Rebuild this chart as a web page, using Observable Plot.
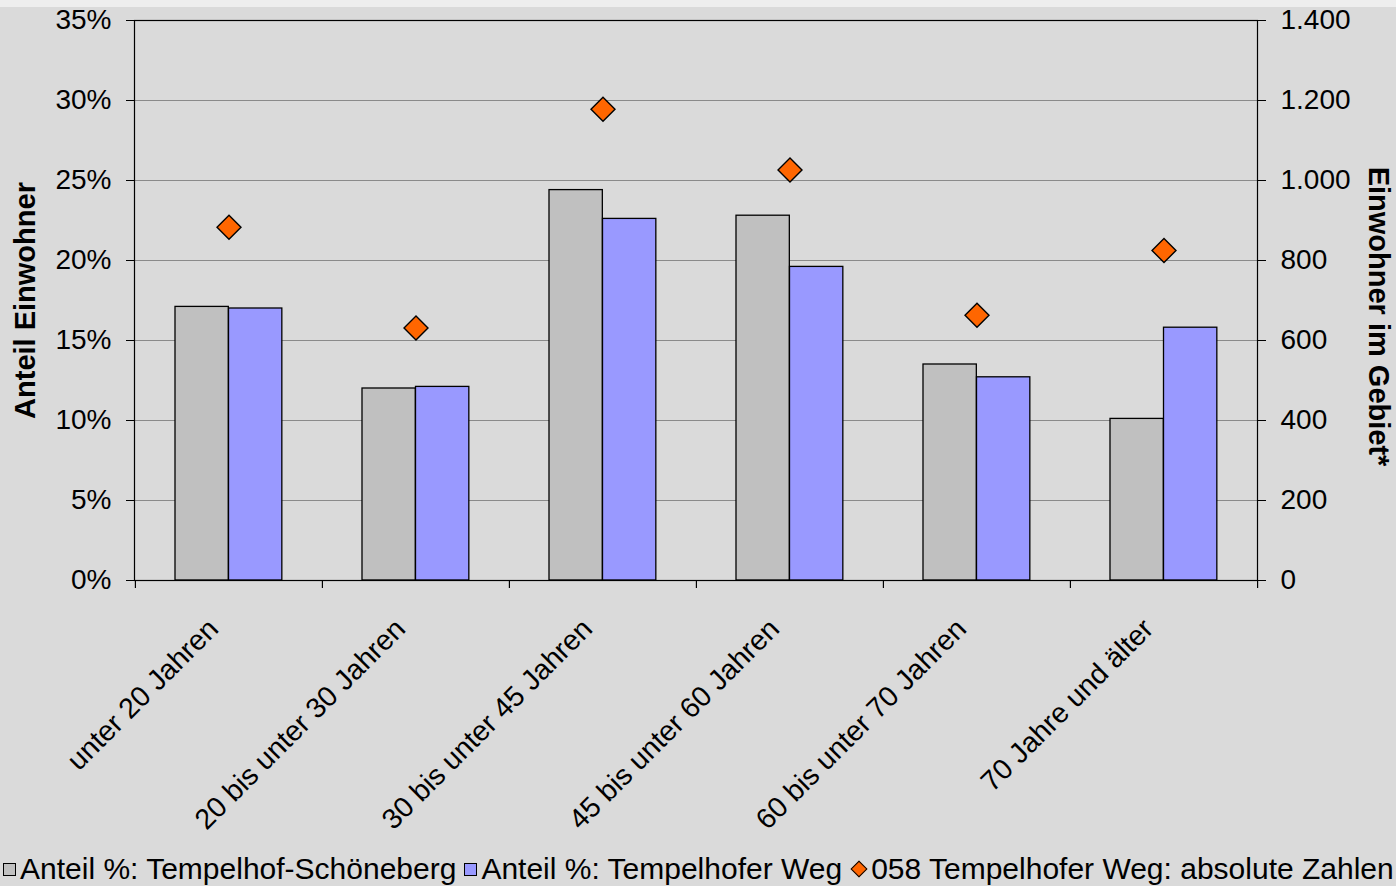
<!DOCTYPE html>
<html>
<head>
<meta charset="utf-8">
<script src="https://cdn.jsdelivr.net/npm/d3@7"></script>
<script src="https://cdn.jsdelivr.net/npm/@observablehq/plot@0.6"></script>
<style>
  html, body { margin: 0; padding: 0; background: #dadada; width: 1396px; height: 886px; overflow: hidden; font-family: Arial, "Liberation Sans", sans-serif; }
  #strip { position: absolute; left: 0; top: 0; width: 1396px; height: 7px; background: #eeeeee; }
  #chart svg { display: block; }
  #legend { position: absolute; left: 0; top: 852px; width: 1396px; height: 34px; white-space: nowrap; overflow: hidden; font-size: 30px; line-height: 34px; color: #000; display: flex; align-items: center; }
  .sw { display: inline-block; flex: none; width: 11px; height: 11px; border: 1px solid #000; margin: 0 4px 0 3px; }
  .dia { display: inline-block; flex: none; width: 10px; height: 10px; border: 1.5px solid #000; background: #ff6600; transform: rotate(45deg); margin: 0 6px 0 6px; }
  .lt { margin-right: 5px; flex: none; }
</style>
</head>
<body>
<div id="strip"></div>
<div id="chart"></div>
<div id="legend"></div>
<script>
const categories = ["unter 20 Jahren", "20 bis unter 30 Jahren", "30 bis unter 45 Jahren", "45 bis unter 60 Jahren", "60 bis unter 70 Jahren", "70 Jahre und älter"];
const anteilTempelhofSchoeneberg = [17.1, 12.0, 24.4, 22.8, 13.5, 10.1];
const anteilTempelhoferWeg = [17.0, 12.1, 22.6, 19.6, 12.7, 15.8];
const absoluteZahlen = [883, 631, 1178, 1026, 663, 825];
const leftTicks = [0, 5, 10, 15, 20, 25, 30, 35];
const rightTicks = [0, 200, 400, 600, 800, 1000, 1200, 1400];
const seriesNames = ["Anteil %: Tempelhof-Schöneberg", "Anteil %: Tempelhofer Weg", "058 Tempelhofer Weg: absolute Zahlen"];
const colors = ["#c0c0c0", "#9999ff", "#ff6600"];

const W = 1396, ML = 134, MR = 139, MT = 20, H = 845, MB = H - 580;
const bw = (W - ML - MR) / categories.length;
const barW = 53.5, padOuter = 40;
const ratio = rightTicks[rightTicks.length - 1] / leftTicks[leftTicks.length - 1];
const de = d3.formatLocale({decimal: ",", thousands: ".", grouping: [3], currency: ["", " €"]});
const fmt = de.format(",");

const rows = categories.map((c, i) => ({cat: c, ts: anteilTempelhofSchoeneberg[i], tw: anteilTempelhoferWeg[i], abs: absoluteZahlen[i]}));
const fs = 28;

const plot = Plot.plot({
  width: W, height: H,
  marginLeft: ML, marginRight: MR, marginTop: MT, marginBottom: MB,
  style: {background: "transparent", fontFamily: "Arial, 'Liberation Sans', sans-serif", color: "#000"},
  x: {type: "band", domain: categories, padding: 0, axis: null},
  y: {domain: [0, 35], axis: null},
  marks: [
    Plot.gridY(leftTicks.slice(1, -1), {stroke: "#8a8a8a", strokeOpacity: 1, strokeWidth: 1}),
    Plot.barY(rows, {x: "cat", y: "ts", fill: colors[0], stroke: "#000", strokeWidth: 1.3, insetLeft: padOuter, insetRight: bw - padOuter - barW}),
    Plot.barY(rows, {x: "cat", y: "tw", fill: colors[1], stroke: "#000", strokeWidth: 1.3, insetLeft: padOuter + barW, insetRight: bw - padOuter - 2 * barW}),
    Plot.frame({stroke: "#000", strokeWidth: 1.2}),
    Plot.ruleX(categories, {x: d => d, y1: 0, y2: 0, dx: -bw / 2, insetBottom: -8, stroke: "#000", strokeWidth: 1.2}),
    Plot.ruleX(categories.slice(-1), {x: d => d, y1: 0, y2: 0, dx: bw / 2, insetBottom: -8, stroke: "#000", strokeWidth: 1.2}),
    Plot.dot(rows, {x: "cat", y: d => d.abs / ratio, symbol: "diamond2", r: 10.8, fill: colors[2], stroke: "#000", strokeWidth: 1.4}),
    Plot.axisY(leftTicks, {anchor: "left", tickSize: 8, tickPadding: 15, tickFormat: d => d + "%", fontSize: fs, label: null, stroke: "#000"}),
    Plot.axisY(leftTicks, {anchor: "right", tickSize: 8, tickPadding: 15, tickFormat: d => fmt(d * ratio), fontSize: fs, label: null, stroke: "#000"}),
    Plot.text(categories, {x: d => d, y: 0, dx: -9, dy: 50, rotate: -45, textAnchor: "end", lineAnchor: "bottom", fontSize: 28.5, fill: "#000"}),
    Plot.text(["Anteil Einwohner"], {frameAnchor: "left", dx: -109, rotate: -90, textAnchor: "middle", lineAnchor: "middle", fontSize: 29, fontWeight: "bold", fill: "#000"}),
    Plot.text(["Einwohner im Gebiet*"], {frameAnchor: "right", dx: 121, dy: 16, rotate: 90, textAnchor: "middle", lineAnchor: "middle", fontSize: 29, fontWeight: "bold", fill: "#000"})
  ]
});
document.getElementById("chart").appendChild(plot);

const legend = document.getElementById("legend");
seriesNames.forEach((name, i) => {
  const sw = document.createElement("span");
  if (i < 2) { sw.className = "sw"; sw.style.background = colors[i]; }
  else { sw.className = "dia"; }
  legend.appendChild(sw);
  const t = document.createElement("span");
  t.className = "lt";
  t.textContent = name;
  legend.appendChild(t);
});
</script>
</body>
</html>
